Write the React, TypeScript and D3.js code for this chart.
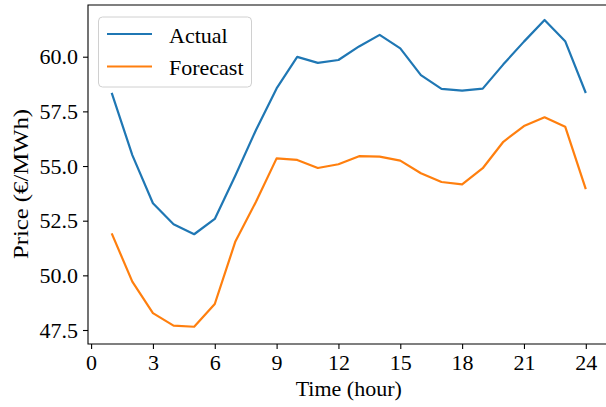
import React, { useEffect, useRef } from "react";
import * as d3 from "d3";

const hours = d3.range(1, 25);
const actual = [58.35, 55.5, 53.3, 52.34, 51.88, 52.58, 54.57, 56.65, 58.55, 59.99, 59.72, 59.85,
  60.47, 61.0, 60.38, 59.16, 58.53, 58.45, 58.54, 59.65, 60.69, 61.68, 60.71, 58.34];
const forecast = [51.92, 49.71, 48.27, 47.7, 47.65, 48.69, 51.55, 53.37, 55.35, 55.28, 54.91, 55.08,
  55.45, 55.43, 55.25, 54.67, 54.27, 54.16, 54.9, 56.11, 56.83, 57.23, 56.8, 53.94];
const xTicks = [0, 3, 6, 9, 12, 15, 18, 21, 24];
const yTicks = [47.5, 50.0, 52.5, 55.0, 57.5, 60.0];
const seriesNames = ["Actual", "Forecast"];
const colors = ["#1f77b4", "#ff7f0e"];

const width = 606;
const height = 407;
const left = 88;
const right = 609.5;
const top = 5;
const bottom = 344;
const font = "'Liberation Serif', 'Times New Roman', serif";

const App = () => {
  const ref = useRef<SVGGElement>(null);

  useEffect(() => {
    const g = d3.select(ref.current);
    g.selectAll("*").remove();

    const x = d3.scaleLinear().domain([-0.15, 25.15]).range([left, right]);
    const y = d3.scaleLinear().domain([46.86, 62.365]).range([bottom, top]);

    // axes
    const xAxis = g.append("g")
      .attr("transform", `translate(0, ${bottom})`)
      .call(d3.axisBottom(x).tickValues(xTicks).tickSize(5).tickPadding(5).tickFormat(d3.format("d")));
    const yAxis = g.append("g")
      .attr("transform", `translate(${left}, 0)`)
      .call(d3.axisLeft(y).tickValues(yTicks).tickSize(5).tickPadding(5).tickFormat(d3.format(".1f")));

    [xAxis, yAxis].forEach(a => {
      a.select(".domain").remove();
      a.selectAll("line").attr("stroke", "#000").attr("stroke-width", 1.1);
      a.selectAll("text")
        .attr("fill", "#000")
        .style("font-family", font)
        .style("font-size", "22px");
    });

    // spines
    g.append("path")
      .attr("d", `M${left},${bottom}V${top}H${right}V${bottom}Z`)
      .attr("fill", "none")
      .attr("stroke", "#000")
      .attr("stroke-width", 1.1);

    // lines
    const line = d3.line<number>()
      .x((d, i) => x(hours[i]))
      .y(d => y(d));

    [actual, forecast].forEach((s, i) => {
      g.append("path")
        .datum(s)
        .attr("d", line)
        .attr("fill", "none")
        .attr("stroke", colors[i])
        .attr("stroke-width", 2.2)
        .attr("stroke-linejoin", "round");
    });

    // legend
    const legend = g.append("g");
    legend.append("rect")
      .attr("x", 98.5)
      .attr("y", 17)
      .attr("width", 153)
      .attr("height", 70)
      .attr("rx", 4)
      .attr("fill", "#fff")
      .attr("fill-opacity", 0.8)
      .attr("stroke", "#d0d0d0")
      .attr("stroke-width", 1);

    seriesNames.forEach((name, i) => {
      const ly = 34 + i * 32.5;
      legend.append("line")
        .attr("x1", 107)
        .attr("x2", 152)
        .attr("y1", ly)
        .attr("y2", ly)
        .attr("stroke", colors[i])
        .attr("stroke-width", 2.2);
      legend.append("text")
        .attr("x", 169)
        .attr("y", ly + 8.5)
        .style("font-family", font)
        .style("font-size", "22px")
        .text(name);
    });

    // axis labels
    g.append("text")
      .attr("x", (left + right) / 2)
      .attr("y", 396)
      .attr("text-anchor", "middle")
      .style("font-family", font)
      .style("font-size", "22px")
      .text("Time (hour)");

    g.append("text")
      .attr("transform", `translate(28, 184) rotate(-90)`)
      .attr("text-anchor", "middle")
      .attr("textLength", 150)
      .attr("lengthAdjust", "spacingAndGlyphs")
      .style("font-family", font)
      .style("font-size", "21px")
      .text("Price (€/MWh)");
  }, []);

  return (
    <div style={{ position: "absolute", left: 0, top: 0 }}>
      <svg width={width} height={height} style={{ display: "block", background: "#fff" }}>
        <g ref={ref} />
      </svg>
    </div>
  );
};

export default App;
